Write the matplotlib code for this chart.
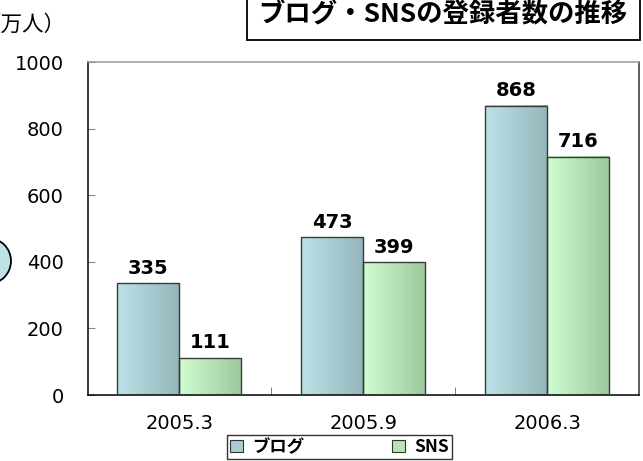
import numpy as np
import matplotlib
matplotlib.use("Agg")
import matplotlib.pyplot as plt
from matplotlib.patches import Rectangle, Ellipse, Patch

plt.rcParams['font.family'] = ['DejaVu Sans', 'Noto Sans CJK JP']

categories = ["2005.3", "2005.9", "2006.3"]
series_names = ["ブログ", "SNS"]
blog = [335, 473, 868]
sns_vals = [111, 399, 716]
yticks = [0, 200, 400, 600, 800, 1000]
title = "ブログ・SNSの登録者数の推移"
unit = "（万人）"

W, H = 643, 461
fig = plt.figure(figsize=(W / 100, H / 100), dpi=100)
ax = fig.add_axes([87.5 / W, 1 - 395 / H, (639 - 87.5) / W, (395 - 62) / H])

x = np.arange(len(categories))
bw = 0.3375
grads = [((188, 226, 232), (148, 182, 187)), ((210, 255, 210), (155, 200, 155))]

for si, vals in enumerate([blog, sns_vals]):
    offs = (si - 0.5) * bw
    bars = ax.bar(x + offs, vals, bw, facecolor='none', edgecolor='#3a3a3a',
                  linewidth=1.0, zorder=3)
    c0 = np.array(grads[si][0]) / 255
    c1 = np.array(grads[si][1]) / 255
    t = np.linspace(0, 1, 64)[None, :, None]
    img = c0[None, None, :] * (1 - t) + c1[None, None, :] * t
    for b, v in zip(bars, vals):
        ax.imshow(img, extent=[b.get_x(), b.get_x() + b.get_width(), 0, b.get_height()],
                  aspect='auto', zorder=2, interpolation='bilinear')
        ax.annotate(str(v), (b.get_x() + b.get_width() / 2, b.get_height()),
                    xytext=(0, 4), textcoords='offset points', ha='center', va='bottom',
                    fontsize=14, fontweight='bold', color='black')

ax.set_xlim(-0.5, len(categories) - 0.5)
ax.set_ylim(0, 1000)
ax.set_yticks(yticks)
ax.set_yticklabels([str(v) for v in yticks], fontsize=14)
ax.tick_params(axis='y', direction='in', length=5, color='#888888', pad=17)
ax.set_xticks(x)
ax.set_xticklabels(categories, fontsize=14)
ax.tick_params(axis='x', which='major', length=0, pad=14)
ax.set_xticks([0.5, 1.5], minor=True)
ax.tick_params(axis='x', which='minor', direction='in', length=6, color='#666666')

ax.spines['top'].set_color('#999999')
ax.spines['right'].set_color('#333333')
ax.spines['left'].set_color('black')
ax.spines['bottom'].set_color('black')
for s in ax.spines.values():
    s.set_linewidth(1.1)

handles = [Patch(facecolor=(168/255, 204/255, 210/255), edgecolor='#333333', linewidth=0.8),
           Patch(facecolor=(182/255, 228/255, 182/255), edgecolor='#333333', linewidth=0.8)]
leg = fig.legend(handles, series_names, loc='center', bbox_to_anchor=(339.5 / W, 1 - 447 / H),
                 ncol=2, frameon=True, fancybox=False, handlelength=0.75, handleheight=0.75,
                 handletextpad=0.55, columnspacing=5.0, borderpad=0.2, borderaxespad=0,
                 prop={'family': ['Noto Sans CJK JP', 'DejaVu Sans'], 'weight': 'bold', 'size': 12.5})
leg.get_frame().set_edgecolor('black')
leg.get_frame().set_linewidth(1.0)

# title box
fig.patches.append(Rectangle((247 / W, 1 - 40 / H), (640 - 247) / W, 0.2,
                             transform=fig.transFigure, facecolor='white',
                             edgecolor='black', linewidth=1.3, clip_on=False))
fig.text(443 / W, 1 - 14 / H, title, ha='center', va='center', fontsize=19,
         fontweight='bold', family=['Noto Sans CJK JP', 'DejaVu Sans'])
fig.text(-21 / W, 1 - 25 / H, unit, ha='left', va='center', fontsize=15.5,
         family=['Noto Sans CJK JP', 'DejaVu Sans'])

# partially visible circle on the left
fig.patches.append(Ellipse((-12 / W, 1 - 261 / H), 46 / W, 46 / H, transform=fig.transFigure,
                           facecolor='#bde3e6', edgecolor='black', linewidth=1.3))

fig.savefig('out.png', dpi=100)
